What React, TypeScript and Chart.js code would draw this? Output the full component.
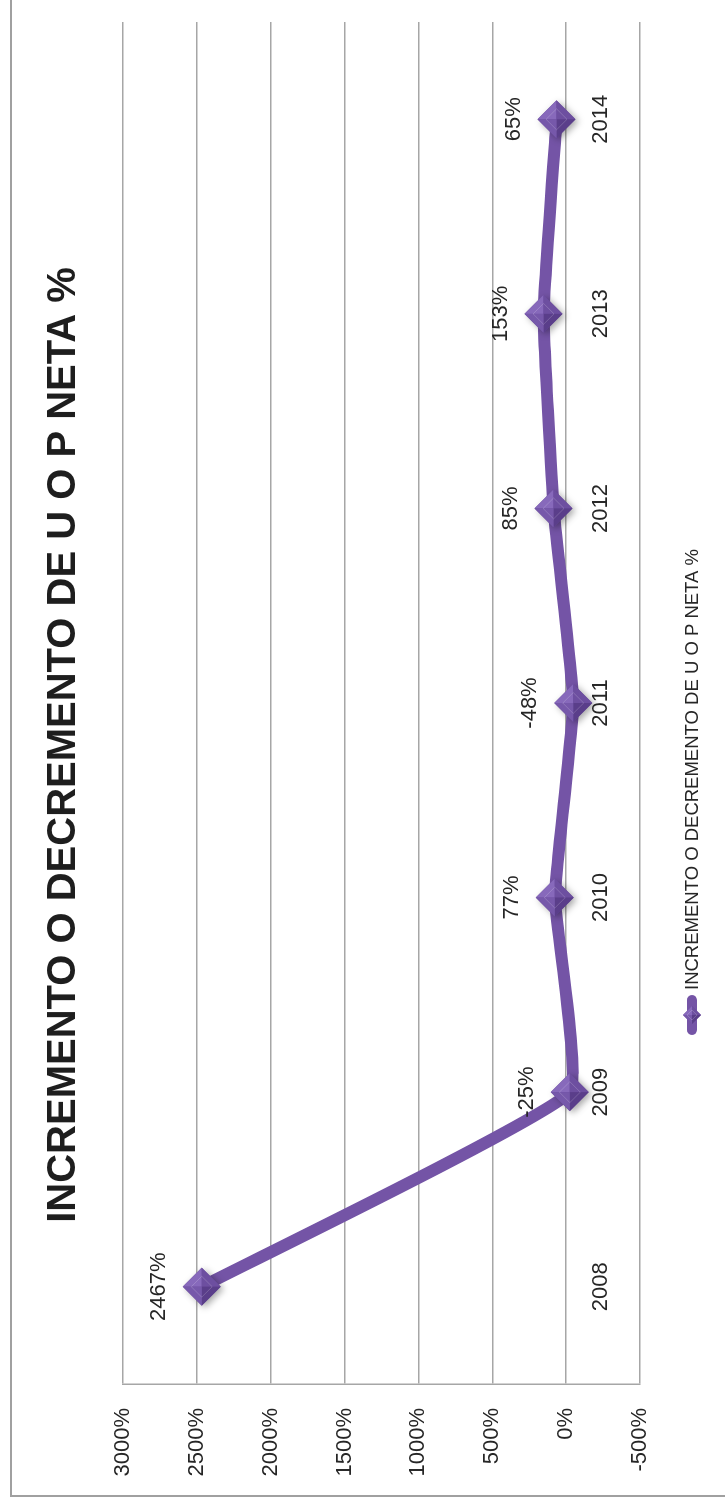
import React, { useEffect, useRef } from 'react';
import { Chart, registerables } from 'chart.js';

Chart.register(...registerables);

// ---- data ----
const years: string[] = ['2008', '2009', '2010', '2011', '2012', '2013', '2014'];
const values: number[] = [2467, -25, 77, -48, 85, 153, 65];
const valueLabels: string[] = ['2467%', '-25%', '77%', '-48%', '85%', '153%', '65%'];
const yMin = -500;
const yMax = 3000;
const yStep = 500;
const titleText = 'INCREMENTO O DECREMENTO DE U O P NETA %';
const seriesName = 'INCREMENTO O DECREMENTO DE U O P NETA %';

// ---- look ----
const W = 1506;
const H = 725;
const FONT = '"Liberation Sans", Arial, sans-serif';
const LINE = '#7454A6';
const GRID = '#a6a6a6';
const TEXT = '#262626';

function drawDiamond(ctx: CanvasRenderingContext2D, x: number, y: number, r: number, shadow: boolean) {
  ctx.save();
  if (shadow) {
    ctx.shadowColor = 'rgba(0,0,0,0.35)';
    ctx.shadowBlur = 7;
    ctx.shadowOffsetX = -2;
    ctx.shadowOffsetY = 3;
  }
  ctx.beginPath();
  ctx.moveTo(x, y - r);
  ctx.lineTo(x + r, y);
  ctx.lineTo(x, y + r);
  ctx.lineTo(x - r, y);
  ctx.closePath();
  ctx.fillStyle = '#6a4b9c';
  ctx.fill();
  ctx.restore();
  const faces: [number, number, number, number, string][] = [
    [0, -r, r, 0, '#8769bb'], // top-right (lightest)
    [r, 0, 0, r, '#6d4fa0'], // bottom-right
    [0, r, -r, 0, '#5a3e8a'], // bottom-left (darkest)
    [-r, 0, 0, -r, '#7658aa'], // top-left
  ];
  ctx.save();
  for (const [ax, ay, bx, by, c] of faces) {
    ctx.beginPath();
    ctx.moveTo(x, y);
    ctx.lineTo(x + ax, y + ay);
    ctx.lineTo(x + bx, y + by);
    ctx.closePath();
    ctx.fillStyle = c;
    ctx.fill();
  }
  const r2 = r * 0.55;
  ctx.beginPath();
  ctx.moveTo(x, y - r2);
  ctx.lineTo(x + r2, y);
  ctx.lineTo(x, y + r2);
  ctx.lineTo(x - r2, y);
  ctx.closePath();
  ctx.strokeStyle = 'rgba(255,255,255,0.18)';
  ctx.lineWidth = 1;
  ctx.stroke();
  ctx.restore();
}

const decor = {
  id: 'decor',
  beforeDraw(chart: any) {
    const ctx: CanvasRenderingContext2D = chart.ctx;
    ctx.save();
    ctx.fillStyle = '#ffffff';
    ctx.fillRect(0, 0, W, H);
    ctx.strokeStyle = '#a0a0a0';
    ctx.lineWidth = 2;
    ctx.beginPath();
    ctx.moveTo(10, H + 5);
    ctx.lineTo(10, 11);
    ctx.lineTo(W + 5, 11);
    ctx.stroke();
    ctx.restore();
  },
  afterDatasetsDraw(chart: any) {
    const ctx: CanvasRenderingContext2D = chart.ctx;
    const meta = chart.getDatasetMeta(0);
    meta.data.forEach((pt: any, i: number) => {
      drawDiamond(ctx, pt.x, pt.y, 19, true);
      ctx.save();
      ctx.font = `22px ${FONT}`;
      ctx.fillStyle = TEXT;
      ctx.textAlign = 'center';
      ctx.textBaseline = 'middle';
      ctx.fillText(valueLabels[i], pt.x, pt.y - 43);
      ctx.restore();
    });
  },
  afterDraw(chart: any) {
    const ctx: CanvasRenderingContext2D = chart.ctx;
    // title
    ctx.save();
    ctx.font = `bold 40px ${FONT}`;
    ctx.fillStyle = '#1e1e1e';
    ctx.textAlign = 'center';
    ctx.textBaseline = 'alphabetic';
    ctx.fillText(titleText, 761, 75);
    ctx.restore();
    // legend
    const ly = 692;
    const lx0 = 471;
    const lx1 = 511;
    ctx.save();
    ctx.strokeStyle = LINE;
    ctx.lineWidth = 10;
    ctx.lineCap = 'round';
    ctx.beginPath();
    ctx.moveTo(lx0 + 5, ly);
    ctx.lineTo(lx1 - 5, ly);
    ctx.stroke();
    ctx.restore();
    drawDiamond(ctx, (lx0 + lx1) / 2, ly, 9, false);
    ctx.save();
    ctx.font = `18.5px ${FONT}`;
    ctx.fillStyle = TEXT;
    ctx.textAlign = 'left';
    ctx.textBaseline = 'middle';
    ctx.fillText(seriesName, lx1 + 5, ly + 1);
    ctx.restore();
  },
};

export default function App() {
  const canvasRef = useRef<HTMLCanvasElement | null>(null);

  useEffect(() => {
    document.body.style.margin = '0';
    document.body.style.overflow = 'hidden';
    const canvas = canvasRef.current;
    if (!canvas) return;
    const chart = new Chart(canvas, {
      type: 'line',
      data: {
        labels: years,
        datasets: [
          {
            label: seriesName,
            data: values,
            borderColor: LINE,
            backgroundColor: LINE,
            borderWidth: 12,
            tension: 0.1,
            pointRadius: 0,
            pointHoverRadius: 0,
            fill: false,
            borderCapStyle: 'round',
            borderJoinStyle: 'round',
          },
        ],
      },
      options: {
        responsive: false,
        animation: false,
        devicePixelRatio: 1,
        layout: { padding: { left: 0, top: 123, right: 22, bottom: 85 } },
        plugins: {
          legend: { display: false },
          title: { display: false },
          tooltip: { enabled: false },
        },
        scales: {
          x: {
            type: 'category',
            offset: true,
            position: { y: 0 },
            grid: { display: false, drawTicks: false },
            border: { display: false },
            ticks: {
              padding: 22,
              font: { family: FONT, size: 22 },
              color: TEXT,
              maxRotation: 0,
              autoSkip: false,
            },
          },
          y: {
            min: yMin,
            max: yMax,
            ticks: {
              stepSize: yStep,
              callback: (v: any) => `${v}%`,
              padding: 24,
              font: { family: FONT, size: 22 },
              color: TEXT,
            },
            grid: { color: GRID, lineWidth: 1.5, drawTicks: false },
            border: { display: true, color: GRID, width: 1.5 },
            afterFit: (s: any) => {
              s.width = 122;
            },
          },
        },
      },
      plugins: [decor],
    } as any);
    return () => chart.destroy();
  }, []);

  return (
    <div
      style={{
        position: 'absolute',
        left: 0,
        top: 0,
        width: W,
        height: H,
        transformOrigin: '0 0',
        transform: `translate(0px, ${W}px) rotate(-90deg)`,
      }}
    >
      <canvas ref={canvasRef} width={W} height={H} style={{ width: W, height: H, display: 'block' }} />
    </div>
  );
}
